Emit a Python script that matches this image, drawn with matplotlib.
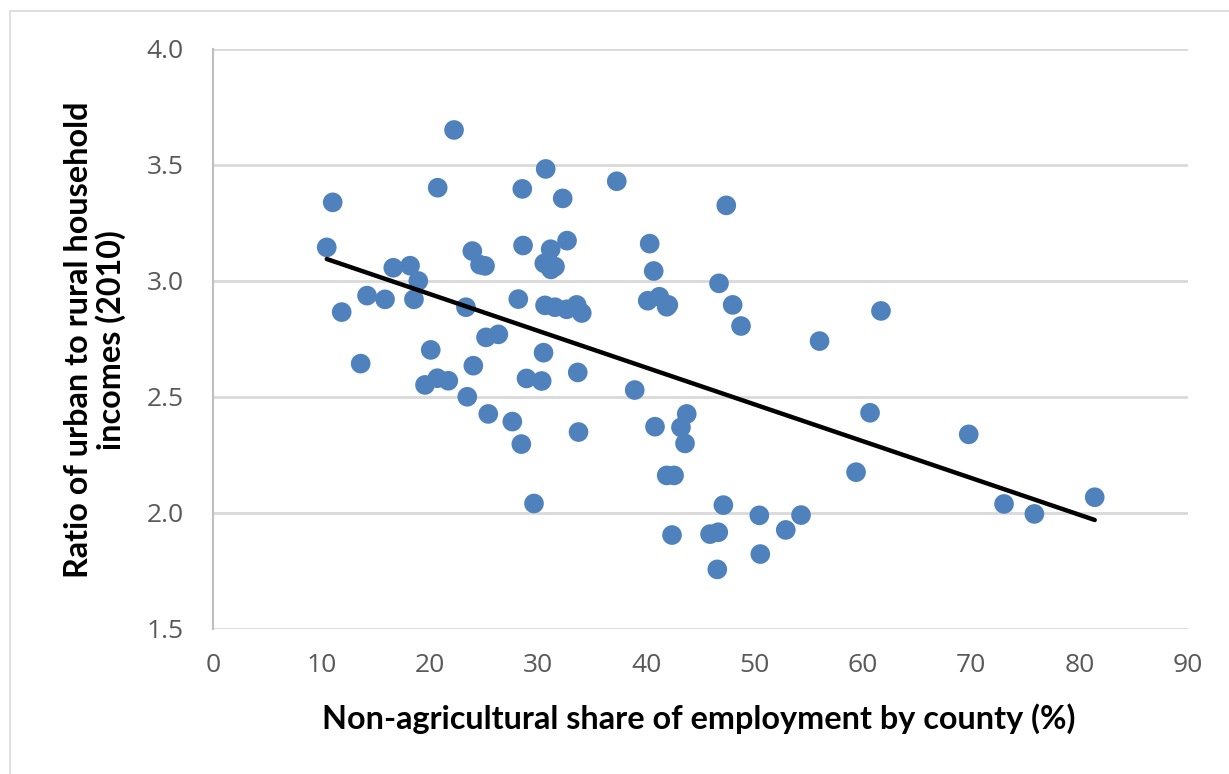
import numpy as np
import matplotlib
matplotlib.use("Agg")
import matplotlib.pyplot as plt
from matplotlib.patches import Rectangle

# Non-agricultural share of employment (%) and urban/rural income ratio, by county
nonag_share = [
    10.50, 11.05, 11.88, 13.63, 14.22, 15.88, 16.64, 18.19, 18.95, 18.55,
    19.57, 20.10, 20.71, 20.74, 21.72, 22.25, 23.47, 23.35, 23.94, 24.03,
    24.65, 25.11, 25.20, 25.41, 26.34, 27.63, 28.18, 28.46, 28.55, 28.62,
    28.94, 29.63, 30.34, 30.51, 30.71, 30.58, 30.65, 31.17, 31.57, 31.20,
    31.57, 32.28, 32.68, 32.65, 33.57, 33.67, 33.74, 34.04, 37.27, 38.93,
    40.13, 40.31, 40.68, 40.80, 41.20, 41.88, 42.03, 41.88, 42.56, 42.37,
    43.20, 43.57, 43.73, 45.88, 46.64, 46.55, 46.71, 47.11, 47.38, 47.97,
    48.74, 50.43, 50.52, 52.87, 54.28, 55.99, 59.36, 60.65, 61.66, 69.76,
    73.02, 75.82, 81.39,
]
income_ratio = [
    3.145, 3.339, 2.866, 2.644, 2.937, 2.921, 3.057, 3.066, 3.000, 2.921,
    2.552, 2.703, 2.581, 3.402, 2.570, 3.651, 2.501, 2.887, 3.129, 2.635,
    3.070, 3.065, 2.757, 2.427, 2.770, 2.394, 2.922, 2.297, 3.397, 3.153,
    2.580, 2.041, 2.569, 2.691, 3.483, 3.076, 2.895, 3.137, 3.062, 3.050,
    2.887, 3.356, 3.174, 2.878, 2.897, 2.606, 2.349, 2.862, 3.430, 2.530,
    2.915, 3.161, 3.043, 2.372, 2.932, 2.889, 2.897, 2.162, 2.162, 1.905,
    2.369, 2.300, 2.427, 1.909, 1.917, 1.757, 2.990, 2.034, 3.326, 2.897,
    2.806, 1.990, 1.823, 1.927, 1.991, 2.741, 2.176, 2.432, 2.871, 2.339,
    2.039, 1.996, 2.068,
]

x_ticks = [0, 10, 20, 30, 40, 50, 60, 70, 80, 90]
y_ticks = [1.5, 2.0, 2.5, 3.0, 3.5, 4.0]

x = np.array(nonag_share)
y = np.array(income_ratio)

W, H = 1229, 774
fig = plt.figure(figsize=(W / 100, H / 100), dpi=100)
fig.patch.set_facecolor("white")

# light frame around the chart area
fig.patches.append(Rectangle((10 / W, -0.05), 1.2, 1 - 11 / H + 0.05,
                             transform=fig.transFigure, fill=False,
                             edgecolor="#d9d9d9", linewidth=1.2))

ax = fig.add_axes([213 / W, 1 - 629 / H, (1188 - 213) / W, (629 - 49) / H])
ax.set_xlim(0, 90)
ax.set_ylim(1.5, 4.0)

ax.scatter(x, y, s=200, color="#4f81bd", edgecolors="none", zorder=3)

# linear trend line
slope, intercept = np.polyfit(x, y, 1)
xs = np.array([x.min(), x.max()])
ax.plot(xs, intercept + slope * xs, color="black", linewidth=3.2,
        solid_capstyle="round", zorder=4)

ax.set_xticks(x_ticks)
ax.set_yticks(y_ticks)
ax.set_xticklabels([str(v) for v in x_ticks])
ax.set_yticklabels([f"{v:.1f}" for v in y_ticks])
for lab in ax.get_xticklabels() + ax.get_yticklabels():
    lab.set_fontfamily("Open Sans")
    lab.set_fontsize(19)
    lab.set_color("#595959")
ax.tick_params(axis="both", length=0)
ax.tick_params(axis="x", pad=17)
ax.tick_params(axis="y", pad=21)

ax.grid(axis="y", color="#d9d9d9", linewidth=2)
ax.set_axisbelow(True)
for side in ("top", "right", "bottom"):
    ax.spines[side].set_visible(False)
ax.spines["left"].set_color("#bfbfbf")
ax.spines["left"].set_linewidth(1.5)

fig.text(699 / W, 1 - 719 / H, "Non-agricultural share of employment by county (%)",
         ha="center", va="center", fontsize=23.3, fontweight="bold",
         family="Lato", color="black")
fig.text(95 / W, 1 - 340 / H, "Ratio of urban to rural household\nincomes (2010)",
         ha="center", va="center", rotation=90, fontsize=23.3, fontweight="bold",
         family="Lato", color="black", linespacing=1.12)

fig.savefig("out.png", dpi=100)
